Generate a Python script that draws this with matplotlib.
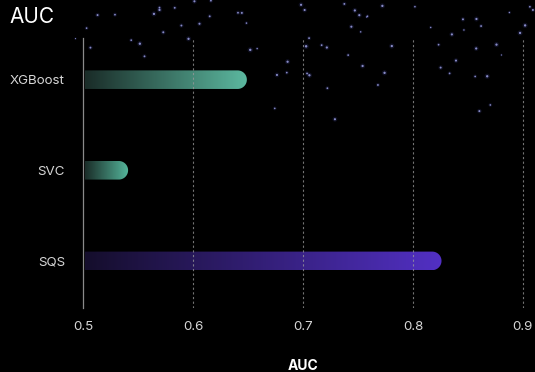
import numpy as np
import matplotlib
matplotlib.use('Agg')
import matplotlib.pyplot as plt
from matplotlib.colors import LinearSegmentedColormap
from matplotlib.path import Path
from matplotlib.patches import PathPatch

# ── Data ──────────────────────────────────────────────────────────────────────
models     = ['SQS', 'SVC', 'XGBoost']
auc_scores = [0.826, 0.541, 0.649]
bar_colors = [('#150e2c', '#5230c4'),
              ('#1a2c28', '#55b79c'),
              ('#1a2c28', '#5cb9a0')]
x_ticks    = [0.5, 0.6, 0.7, 0.8, 0.9]

BG = '#000000'
X_MIN, X_MAX = 0.5, 0.911
BAR_H = 0.205

fig = plt.figure(figsize=(5.35, 3.72), dpi=100, facecolor=BG)

# ── Starry backdrop ──────────────────────────────────────────────────────────
bg_ax = fig.add_axes([0, 0, 1, 1], zorder=0)
bg_ax.set_xlim(0, 535)
bg_ax.set_ylim(372, 0)
bg_ax.axis('off')
bg_ax.set_facecolor(BG)

rng = np.random.default_rng(7)
n_stars = 85
sx = rng.uniform(70, 535, n_stars)
sy = rng.beta(1.1, 2.6, n_stars) * 150
keep = ~((sx < 260) & (sy > 60))
sx, sy = sx[keep], sy[keep]
sizes = rng.uniform(0.6, 3.2, sx.size)
bg_ax.scatter(sx, sy, s=sizes * 5, color='#4a4fb0', alpha=0.18, lw=0)
bg_ax.scatter(sx, sy, s=sizes, color='#b0b4ff', alpha=0.75, lw=0)

# ── Main axes ────────────────────────────────────────────────────────────────
ax = fig.add_axes([83 / 535, 1 - 308 / 372, 452 / 535, 270 / 372], zorder=1)
ax.patch.set_alpha(0)
ax.set_xlim(X_MIN, X_MAX)
ax.set_ylim(-0.52, 2.46)

x_per_px = (X_MAX - X_MIN) / 452
y_per_px = 2.98 / 270


def rounded_bar(y, x0, x1, h):
    """Bar outline with a flat left edge and a round right cap."""
    ry = h / 2
    rx = ry / y_per_px * x_per_px
    xc = x1 - rx
    theta = np.linspace(-np.pi / 2, np.pi / 2, 40)
    cap_x = xc + rx * np.cos(theta)
    cap_y = y + ry * np.sin(theta)
    verts = [(x0, y - ry)] + list(zip(cap_x, cap_y)) + [(x0, y + ry), (x0, y - ry)]
    codes = [Path.MOVETO] + [Path.LINETO] * (len(verts) - 2) + [Path.CLOSEPOLY]
    return Path(verts, codes)


gradient = np.linspace(0, 1, 256).reshape(1, -1)
for i, (name, score) in enumerate(zip(models, auc_scores)):
    c0, c1 = bar_colors[i]
    cmap = LinearSegmentedColormap.from_list(name, [c0, c1])
    img = ax.imshow(gradient, cmap=cmap, aspect='auto',
                    extent=(X_MIN + 0.0015, score, i - BAR_H / 2, i + BAR_H / 2),
                    zorder=2)
    clip = PathPatch(rounded_bar(i, X_MIN + 0.0015, score, BAR_H),
                     facecolor='none', edgecolor='none', transform=ax.transData)
    ax.add_patch(clip)
    img.set_clip_path(clip)

ax.set_xlim(X_MIN, X_MAX)
ax.set_ylim(-0.52, 2.46)

# dashed guides sit on top of the bars
for xv in x_ticks[1:]:
    ax.axvline(xv, color='#9a9a9a', lw=0.8, ls=(0, (2, 2.2)), alpha=0.75, zorder=3)

for side in ['top', 'right', 'bottom']:
    ax.spines[side].set_visible(False)
ax.spines['left'].set_color('#8a8a8a')
ax.spines['left'].set_linewidth(0.9)

ax.set_yticks(range(len(models)))
ax.set_yticklabels(models)
ax.set_xticks(x_ticks)
ax.set_xticklabels([f'{t:.1f}' for t in x_ticks])
ax.tick_params(axis='y', length=0, pad=13, labelsize=9.6, labelcolor='#d6d6d6')
ax.tick_params(axis='x', length=0, pad=9, labelsize=9.6, labelcolor='#d6d6d6')
for lbl in ax.get_xticklabels() + ax.get_yticklabels():
    lbl.set_family('Inter')

ax.text(0.7, -0.215, 'AUC', transform=ax.get_xaxis_transform(),
        ha='center', va='center', fontsize=10, fontweight='bold',
        color='white', family='Inter')

fig.text(9 / 535, 1 - 17 / 372, 'AUC', ha='left', va='center',
         fontsize=15, color='white', family='Inter')

fig.savefig('out.png', dpi=100, facecolor=BG)
